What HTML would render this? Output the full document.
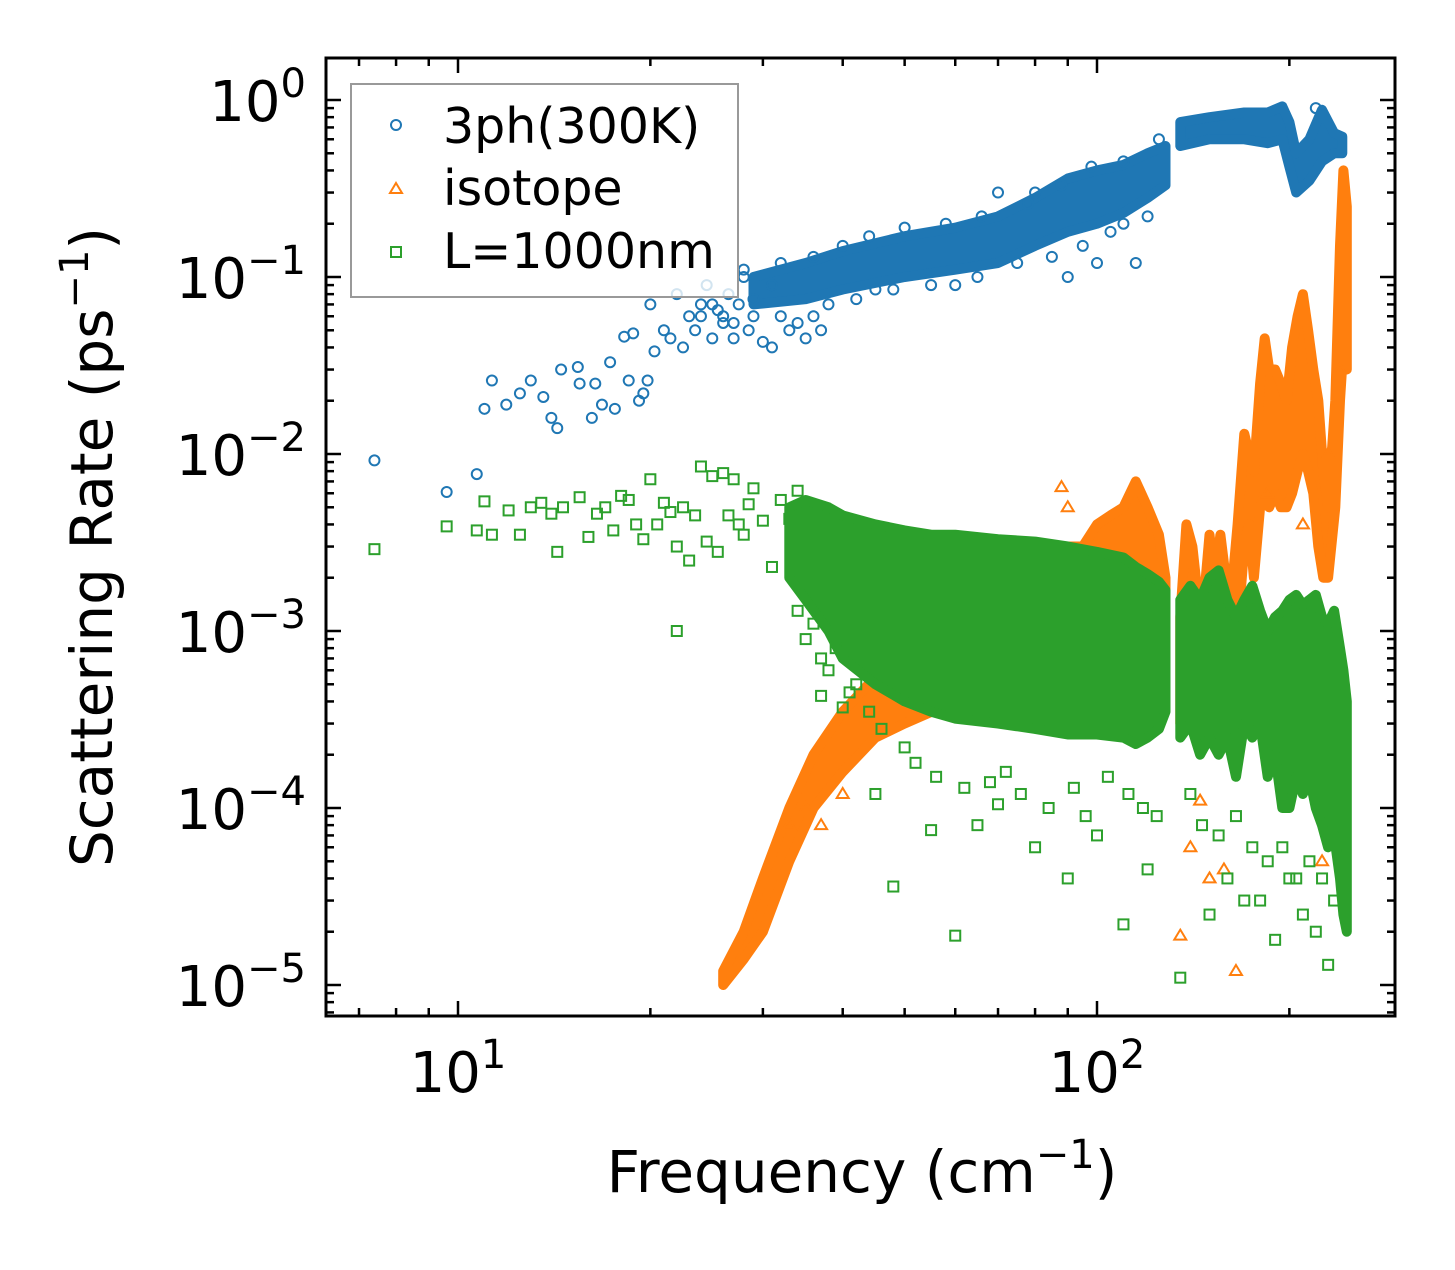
<!DOCTYPE html>
<html><head><meta charset="utf-8"><style>
body{margin:0;background:#fff}
svg text{font-family:"DejaVu Sans","Liberation Sans",sans-serif;fill:#000}
</style></head><body>
<svg id="chart" width="1455" height="1265" viewBox="0 0 1455 1265" xmlns="http://www.w3.org/2000/svg">
<rect width="1455" height="1265" fill="#fff"/>
<g id="marks"></g>
<g id="axes"></g>
<g>
<rect x="351" y="84" width="387" height="213" fill="#fff" fill-opacity="0.8" stroke="#999" stroke-width="2"/>
<circle cx="396" cy="125" r="5" fill="none" stroke="#1f77b4" stroke-width="2"/>
<text x="443" y="143" font-size="49">3ph(300K)</text>
<path d="M396,183 L402,193 L390,193 Z" fill="none" stroke="#ff7f0e" stroke-width="2"/>
<text x="443" y="205" font-size="49">isotope</text>
<rect x="391" y="247" width="10" height="10" fill="none" stroke="#2ca02c" stroke-width="2"/>
<text x="443" y="268" font-size="49">L=1000nm</text>
</g>
<text x="862" y="1192" font-size="58" text-anchor="middle">Frequency (cm<tspan dy="-24" font-size="40">−1</tspan><tspan dy="24">)</tspan></text>
<text transform="translate(112,547) rotate(-90)" font-size="58" text-anchor="middle">Scattering Rate (ps<tspan dy="-24" font-size="40">−1</tspan><tspan dy="24">)</tspan></text>
</svg>
<script>
const NS="http://www.w3.org/2000/svg";
const X0=326,X1=1395,Y0=58,Y1=1016;
function sx(v){return 458+639*(Math.log10(v)-1);}
function sy(v){return 100-177*Math.log10(v);}

// --- data ---
const xMajorTicks=[10,100];
const xMinorTicks=[7,8,9,20,30,40,50,60,70,80,90,200];
const yMajorTicks=[1e-5,1e-4,1e-3,1e-2,1e-1,1];
const yTickExps=["−5","−4","−3","−2","−1","0"];

// 3ph sparse points
const ph3X=[7.4,9.6,10.7,11.0,11.3,11.9,12.5,13.0,13.6,14.0,14.3,14.5,15.4,15.5,16.2,16.4,16.8,17.3,17.6,18.2,18.5,18.8,19.2,19.5,19.8,20,20.3,21,21.5,22,22.5,23,23.5,24,24.5,25,25.5,26,26.5,27,27.5,28,28.5,29,30,31,33,35,37,45,60,70,80,90,100,110,115,220,28,29,31,26,27,24,25,32,34,36,38,42,48,55,65,75,85,95,105,120,32,36,40,44,50,58,66,78,88,98,110,125];
const ph3Y=[0.0092,0.0061,0.0077,0.018,0.026,0.019,0.022,0.026,0.021,0.016,0.014,0.030,0.031,0.025,0.016,0.025,0.019,0.033,0.018,0.046,0.026,0.048,0.020,0.022,0.026,0.07,0.038,0.05,0.045,0.08,0.04,0.06,0.05,0.07,0.09,0.045,0.065,0.055,0.08,0.045,0.07,0.1,0.05,0.06,0.043,0.04,0.05,0.045,0.05,0.085,0.09,0.3,0.3,0.1,0.12,0.2,0.12,0.9,0.11,0.075,0.09,0.06,0.055,0.06,0.07,0.06,0.055,0.06,0.07,0.075,0.085,0.09,0.1,0.12,0.13,0.15,0.18,0.22,0.12,0.13,0.15,0.17,0.19,0.2,0.22,0.26,0.33,0.42,0.45,0.6];
const ph3BandAX=[29,35,40,50,60,70,80,90,100,110,120,128];
const ph3BandALo=[0.07,0.075,0.085,0.1,0.11,0.12,0.15,0.18,0.2,0.23,0.28,0.33];
const ph3BandAHi=[0.1,0.12,0.14,0.17,0.19,0.22,0.28,0.36,0.4,0.43,0.5,0.55];
const ph3BandBX=[135,150,170,185,195,200,205,215,225,235,242];
const ph3BandBLo=[0.55,0.6,0.6,0.57,0.6,0.42,0.3,0.35,0.45,0.5,0.5];
const ph3BandBHi=[0.75,0.8,0.85,0.85,0.92,0.75,0.5,0.6,0.88,0.65,0.62];

// isotope
const isoBandAX=[26,28,30,33,36,40,45,50,60,70,80,90,95,100,105,110,115,120,125,128];
const isoBandALo=[1e-5,1.4e-5,2e-5,5e-5,1e-4,1.6e-4,2.5e-4,3e-4,4e-4,5e-4,5e-4,6e-4,6e-4,6e-4,7e-4,7e-4,8e-4,8e-4,1e-3,1e-3];
const isoBandAHi=[1.2e-5,2e-5,4e-5,1e-4,2e-4,3.5e-4,5.5e-4,8e-4,1.1e-3,1.5e-3,1.8e-3,3e-3,3e-3,4e-3,4.5e-3,5e-3,7e-3,5e-3,3.5e-3,2e-3];
const isoBandBX=[135,138,141,144,147,150,153,156,159,162,166,170,173,176,180,183,186,190,194,198,202,206,210,214,218,222,226,230,236,240,243,246];
const isoBandBLo=[3e-4,5e-4,4e-4,3e-4,4e-4,4e-4,5e-4,4e-4,5e-4,5e-4,1e-3,3e-3,4e-3,2e-3,5e-3,6e-3,5e-3,6e-3,5e-3,5e-3,6e-3,8e-3,1e-2,8e-3,6e-3,3e-3,2e-3,2e-3,5e-3,2e-2,4e-2,3e-2];
const isoBandBHi=[1.2e-3,4e-3,3e-3,1.5e-3,1.5e-3,3.5e-3,2e-3,3.5e-3,2e-3,1.5e-3,4e-3,1.3e-2,1e-2,8e-3,2.5e-2,4.5e-2,3e-2,3e-2,2.5e-2,2e-2,4e-2,6e-2,8e-2,5e-2,3e-2,2e-2,8e-3,5e-3,2e-2,0.15,0.4,0.25];
const isoX=[33,35,37,40,135,150,158,165,185,210,225,230,240,88,90,140,145];
const isoY=[8e-5,1e-4,8e-5,1.2e-4,1.9e-5,4e-5,4.5e-5,1.2e-5,6e-3,4e-3,5e-5,1e-2,0.03,6.5e-3,5e-3,6e-5,1.1e-4];

// boundary
const bdX=[7.4,9.6,10.7,11.0,11.3,12.0,12.5,13.0,13.5,14.0,14.3,14.6,15.5,16.0,16.5,17.0,17.5,18.0,18.5,19.0,19.5,20,20.5,21,21.5,22,22.5,23,23.5,24,24.5,25,25.5,26,26.5,27,27.5,28,28.5,29,30,31,32,33,34,35,37,40,45,48,55,60,65,70,80,90,100,110,120,135,150,160,170,180,190,200,210,220,230,22,34,35,36,37,38,39,41,42,44,46,50,52,56,62,68,72,76,84,92,96,104,112,118,124,140,146,155,165,175,185,195,205,215,225,235];
const bdY=[0.0029,0.0039,0.0037,0.0054,0.0035,0.0048,0.0035,0.005,0.0053,0.0046,0.0028,0.005,0.0057,0.0034,0.0046,0.005,0.0037,0.0058,0.0055,0.004,0.0033,0.0072,0.004,0.0053,0.0047,0.003,0.005,0.0025,0.0045,0.0085,0.0032,0.0075,0.0028,0.0078,0.0045,0.0072,0.004,0.0035,0.0052,0.0064,0.0042,0.0023,0.0055,0.0043,0.0062,0.0019,0.00043,0.00037,0.00012,0.000036,0.000075,0.000019,0.00008,0.000105,0.00006,0.00004,0.00007,0.000022,0.000045,0.000011,0.000025,0.00004,0.00003,0.00003,0.000018,0.00004,0.000025,0.00002,0.000013,0.001,0.0013,0.0009,0.0011,0.0007,0.0006,0.0008,0.00045,0.0005,0.00035,0.00028,0.00022,0.00018,0.00015,0.00013,0.00014,0.00016,0.00012,0.0001,0.00013,0.00009,0.00015,0.00012,0.0001,0.00009,0.00012,0.00008,0.00007,0.00009,0.00006,0.00005,0.00006,0.00004,0.00005,0.00004,0.00003];
const bdBandAX=[33,35,38,40,45,50,55,60,70,80,90,100,110,115,120,125,128];
const bdBandALo=[2e-3,1.5e-3,1e-3,7e-4,5e-4,4e-4,3.5e-4,3.2e-4,3e-4,2.8e-4,2.6e-4,2.6e-4,2.5e-4,2.3e-4,2.5e-4,2.8e-4,3.5e-4];
const bdBandAHi=[5e-3,5.5e-3,5e-3,4.5e-3,4e-3,3.7e-3,3.5e-3,3.5e-3,3.3e-3,3.2e-3,3e-3,2.8e-3,2.6e-3,2.3e-3,2.1e-3,1.9e-3,1.7e-3];
const bdBandBX=[135,140,145,150,155,160,165,170,175,180,185,190,195,200,205,210,215,220,225,230,235,240,243,246];
const bdBandBLo=[2.5e-4,3e-4,2e-4,2.5e-4,2e-4,2.5e-4,1.5e-4,3e-4,2.5e-4,3e-4,1.5e-4,2e-4,1e-4,1e-4,1.5e-4,1.2e-4,1.5e-4,1e-4,8e-5,6e-5,7e-5,4e-5,2.5e-5,2e-5];
const bdBandBHi=[1.5e-3,1.8e-3,1.5e-3,2e-3,2.2e-3,1.5e-3,1.2e-3,1.5e-3,1.8e-3,1.3e-3,1e-3,1.2e-3,1.3e-3,1.5e-3,1.6e-3,1.4e-3,1.5e-3,1.6e-3,1.2e-3,1.1e-3,1.3e-3,8e-4,6e-4,4e-4];

const marks=document.getElementById('marks');
const axes=document.getElementById('axes');
function mk(tag,attrs,parent){const e=document.createElementNS(NS,tag);for(const k in attrs)e.setAttribute(k,attrs[k]);parent.appendChild(e);return e;}

function band(xs,lo,hi,color,name){
  let d='';
  xs.forEach((x,i)=>{d+=(i?'L':'M')+sx(x).toFixed(1)+','+sy(hi[i]).toFixed(1);});
  for(let i=xs.length-1;i>=0;i--)d+='L'+sx(xs[i]).toFixed(1)+','+sy(lo[i]).toFixed(1);
  d+='Z';
  const p=mk('path',{d:d,fill:color,stroke:color,'stroke-width':10,'stroke-linejoin':'round'},marks);
  
  
}
function circles(xs,ys,color,name){
  xs.forEach((x,i)=>{const c=mk('circle',{cx:sx(x),cy:sy(ys[i]),r:5,fill:'none',stroke:color,'stroke-width':2},marks);
    
    });
}
function tris(xs,ys,color,name){
  xs.forEach((x,i)=>{const X=sx(x),Y=sy(ys[i]);const p=mk('path',{d:`M${X},${Y-6}L${X+6},${Y+4}L${X-6},${Y+4}Z`,fill:'none',stroke:color,'stroke-width':2},marks);
    
    });
}
function squares(xs,ys,color,name){
  xs.forEach((x,i)=>{const r=mk('rect',{x:sx(x)-5,y:sy(ys[i])-5,width:10,height:10,fill:'none',stroke:color,'stroke-width':2},marks);
    
    });
}
const BLUE='#1f77b4',ORANGE='#ff7f0e',GREEN='#2ca02c';
band(ph3BandAX,ph3BandALo,ph3BandAHi,BLUE,'3ph-band-low');
band(ph3BandBX,ph3BandBLo,ph3BandBHi,BLUE,'3ph-band-high');
circles(ph3X,ph3Y,BLUE,'3ph-point');
band(isoBandAX,isoBandALo,isoBandAHi,ORANGE,'isotope-band-low');
band(isoBandBX,isoBandBLo,isoBandBHi,ORANGE,'isotope-band-high');
tris(isoX,isoY,ORANGE,'isotope-point');
band(bdBandAX,bdBandALo,bdBandAHi,GREEN,'boundary-band-low');
band(bdBandBX,bdBandBLo,bdBandBHi,GREEN,'boundary-band-high');
squares(bdX,bdY,GREEN,'boundary-point');

const cp=mk('clipPath',{id:'clip'},document.getElementById('chart'));
mk('rect',{x:X0,y:Y0,width:X1-X0,height:Y1-Y0},cp);
marks.setAttribute('clip-path','url(#clip)');

const fr=mk('rect',{x:X0,y:Y0,width:X1-X0,height:Y1-Y0,fill:'none',stroke:'#000','stroke-width':3},axes);



function tickLine(x1,y1,x2,y2,name){const l=mk('line',{x1,y1,x2,y2,stroke:'#000','stroke-width':2.5},axes);
  
  }
xMajorTicks.forEach(v=>{const x=sx(v);tickLine(x,Y1,x,Y1-15,'x-major-tick');tickLine(x,Y0,x,Y0+15,'x-major-tick-top');
  const t=mk('text',{x:x,y:1092,'font-size':56,'text-anchor':'middle'},axes);
  
  
  t.innerHTML='10<tspan dy="-24" font-size="40">'+Math.round(Math.log10(v))+'</tspan>';});
xMinorTicks.forEach(v=>{const x=sx(v);tickLine(x,Y1,x,Y1-8,'x-minor-tick');tickLine(x,Y0,x,Y0+8,'x-minor-tick-top');});
yMajorTicks.forEach((v,i)=>{const y=sy(v);tickLine(X0,y,X0+15,y,'y-major-tick');tickLine(X1,y,X1-15,y,'y-major-tick-right');
  const t=mk('text',{x:306,y:y+21,'font-size':56,'text-anchor':'end'},axes);
  
  
  t.innerHTML='10<tspan dy="-24" font-size="40">'+yTickExps[i]+'</tspan>';
  for(let m=2;m<10;m++){const yy=sy(v*m);if(yy>Y0&&yy<Y1){tickLine(X0,yy,X0+8,yy,'y-minor-tick');tickLine(X1,yy,X1-8,yy,'y-minor-tick-right');}}
  for(let m=2;m<10;m++){const yy=sy(v/10*m);if(i==0&&yy>Y0&&yy<Y1){tickLine(X0,yy,X0+8,yy,'y-minor-tick');tickLine(X1,yy,X1-8,yy,'y-minor-tick-right');}}
});
</script>
</body></html>
